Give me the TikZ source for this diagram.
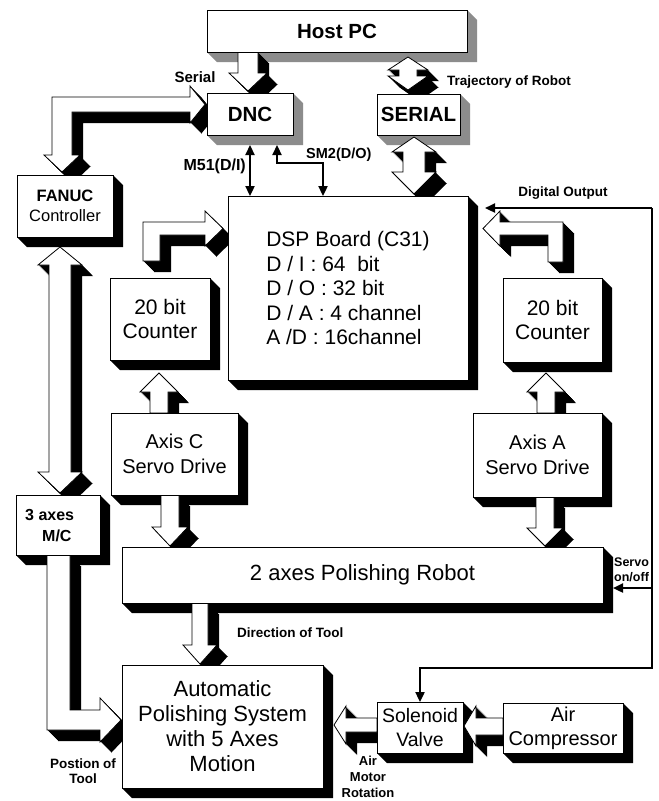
\documentclass[tikz,border=0pt]{standalone}
\usepackage{fontspec}
\setmainfont{Liberation Sans}
\usetikzlibrary{arrows.meta,calc}
\pgfdeclarelayer{bglayer}
\pgfdeclarelayer{shadowlayer}
\pgfdeclarelayer{arrowlayer}
\pgfsetlayers{bglayer,shadowlayer,arrowlayer,main}
% box: name, x1, y1, x2, y2, shadow colour, node options, text
\newcommand{\blk}[8]{%
  \begin{pgfonlayer}{shadowlayer}
    \fill[#6] (#2,#3) -- (#4,#3) -- (#4+10,#3+10) -- (#4+10,#5+10) -- (#2+10,#5+10) -- (#2,#5) -- cycle;
  \end{pgfonlayer}
  \node[face, minimum width={#4pt-#2pt}, minimum height={#5pt-#3pt}, #7] (#1) at ({(#2+#4)/2},{(#3+#5)/2}) {#8};
}
% 3-D block arrow given by its outline
\newcommand{\barrow}[1]{%
  \begin{pgfonlayer}{arrowlayer}
    \foreach \t in {1,2,...,11} {\fill[black, shift={(\t,\t)}] #1;}
    \filldraw[fill=white, draw=black, line width=0.8pt] #1;
  \end{pgfonlayer}
}
\begin{document}
\begin{tikzpicture}[x=1pt,y=-1pt,
  face/.style={draw=black, fill=white, line width=1pt, inner sep=0pt, outer sep=0pt, align=center},
  sig/.style={line width=2.3pt, -{Triangle[length=10pt,width=9pt]}},
  dsig/.style={line width=2.3pt, {Triangle[length=10pt,width=9pt]}-{Triangle[length=10pt,width=9pt]}},
  lbl/.style={font=\fontsize{13.5}{15.5}\selectfont\bfseries, align=center, inner sep=0pt},
  bigb/.style={font=\fontsize{20.5}{24}\selectfont\bfseries},
  big/.style={font=\fontsize{21}{24.5}\selectfont},
  mid/.style={font=\fontsize{20}{25}\selectfont},
  sh/.style={fill=black!45},
  bk/.style={fill=black}]
\useasboundingbox (0,0) rectangle (659,801);
\begin{pgfonlayer}{bglayer}
\fill[white] (0,0) rectangle (659,801);
\end{pgfonlayer}

% boxes
\blk{host}{207}{10}{467}{52}{sh}{bigb}{Host PC}
\blk{dnc}{207}{93}{293}{135}{sh}{bigb}{DNC}
\blk{serial}{377}{94}{460}{135}{sh}{bigb}{SERIAL}
\blk{fanuc}{17}{175}{113}{237}{bk}{font=\fontsize{16.5}{20}\selectfont}{{\bfseries FANUC}\\Controller}
\blk{dsp}{228}{196}{468}{380}{bk}{align=left, font=\fontsize{21}{24.5}\selectfont}{DSP Board (C31)\\D / I : 64~~bit\\D / O : 32 bit\\D / A : 4 channel\\A /D : 16channel}
\blk{cntL}{110}{278}{210}{360}{bk}{big}{20 bit\\Counter}
\blk{cntR}{503}{278}{602}{362}{bk}{big}{20 bit\\Counter}
\blk{axisC}{111}{413}{238}{495}{bk}{mid}{Axis C\\Servo Drive}
\blk{axisA}{473}{413}{602}{497}{bk}{mid}{Axis A\\Servo Drive}
\blk{mc}{16}{495}{100}{555}{bk}{}{}
\node[font=\fontsize{16}{21}\selectfont\bfseries, align=left, anchor=west, inner sep=0pt] (mctext) at (25,526) {3 axes\\\hspace*{17pt}M/C};
\blk{robot}{122}{547}{603}{603}{bk}{font=\fontsize{22}{26}\selectfont}{2 axes Polishing Robot}
\blk{aps}{122}{665}{323}{788}{bk}{font=\fontsize{22}{25}\selectfont}{Automatic\\Polishing System\\with 5 Axes\\Motion}
\blk{sol}{377}{702}{463}{753}{bk}{font=\fontsize{19.5}{24}\selectfont}{Solenoid\\Valve}
\blk{air}{503}{703}{623}{753}{bk}{font=\fontsize{20}{24}\selectfont}{Air\\Compressor}

% block arrows
\barrow{(238,52) -- (238,73) -- (229,73) -- (248,91) -- (267,73) -- (258,73) -- (258,52) -- cycle}
\barrow{(408,57) -- (428,70) -- (417,70) -- (417,76) -- (428,76) -- (408,90) -- (388,76) -- (399,76) -- (399,70) -- (388,70) -- cycle}
\barrow{(414,137) -- (436,152) -- (425,152) -- (425,172) -- (436,172) -- (414,194) -- (392,172) -- (403,172) -- (403,152) -- (392,152) -- cycle}
\barrow{(52,97) -- (190,97) -- (190,86) -- (205,104.5) -- (190,123) -- (190,112) -- (72,112) -- (72,155) -- (80,155) -- (62,172) -- (44,155) -- (52,155) -- cycle}
\barrow{(60,247) -- (82,265) -- (71,265) -- (71,472) -- (82,472) -- (60,493) -- (38,472) -- (49,472) -- (49,265) -- (38,265) -- cycle}
\barrow{(47,555) -- (47,730) -- (100,730) -- (100,742) -- (121,720) -- (100,698) -- (100,710) -- (70,710) -- (70,555) -- cycle}
\barrow{(143,261) -- (143,222) -- (205,222) -- (205,211) -- (223,228.5) -- (205,246) -- (205,235) -- (160,235) -- (160,261) -- cycle}
\barrow{(563,262) -- (563,222) -- (500,222) -- (500,211) -- (483,228.5) -- (500,246) -- (500,235) -- (548,235) -- (548,262) -- cycle}
\barrow{(150,413) -- (150,392) -- (140,392) -- (159,373) -- (178,392) -- (168,392) -- (168,413) -- cycle}
\barrow{(537,413) -- (537,392) -- (527,392) -- (546,373) -- (565,392) -- (555,392) -- (555,413) -- cycle}
\barrow{(161,495) -- (161,527) -- (152,527) -- (170,546) -- (188,527) -- (179,527) -- (179,495) -- cycle}
\barrow{(536,497) -- (536,528) -- (527,528) -- (545,546) -- (563,528) -- (554,528) -- (554,497) -- cycle}
\barrow{(192,603) -- (192,645) -- (183,645) -- (200,664) -- (217,645) -- (208,645) -- (208,603) -- cycle}
\barrow{(503,718) -- (476,718) -- (476,706) -- (464,726) -- (476,746) -- (476,735) -- (503,735) -- cycle}
\barrow{(377,718) -- (346,718) -- (346,706) -- (334,725) -- (346,744) -- (346,732) -- (377,732) -- cycle}

% thin signal lines
\coordinate (m51a) at (250,145);
\draw[dsig] (m51a) -- (m51a |- dsp.north);
\coordinate (sm2a) at (277,145);
\coordinate (sm2b) at (323,196);
\draw[dsig] (sm2a) -- ++(0,18) -| (sm2b);
\coordinate (doc) at (652,208);
\coordinate (dotip) at (485,208);
\coordinate (dobot) at (652,668);
\coordinate (svtip) at (613,588);
\draw[sig] (doc) -- (dotip);
\draw[sig] (doc) -- (dobot) -| (sol.north);
\draw[sig] (svtip -| doc) -- (svtip);

% labels
\node[lbl, font=\fontsize{15}{17}\selectfont\bfseries] (lserial) at (195,77) {Serial};
\node[lbl, anchor=west] (ltraj) at (447,82) {Trajectory of Robot};
\node[lbl, anchor=east, font=\fontsize{16}{18}\selectfont\bfseries] (lm51) at (246,166) {M51(D/I)};
\node[lbl, anchor=west, font=\fontsize{14.5}{17}\selectfont\bfseries] (lsm2) at (306,155) {SM2(D/O)};
\node[lbl] (ldo) at (563,193) {Digital Output};
\node[lbl, align=left, anchor=west, font=\fontsize{12.5}{15.5}\selectfont\bfseries] (lservo) at (614,570) {Servo\\on/off};
\node[lbl, anchor=west] (ldir) at (237,633) {Direction of Tool};
\node[lbl] (lpos) at (83,771) {Postion of\\Tool};
\node[lbl, font=\fontsize{13}{16}\selectfont\bfseries] (lair) at (368,777) {Air\\Motor\\Rotation};
\end{tikzpicture}
\end{document}
